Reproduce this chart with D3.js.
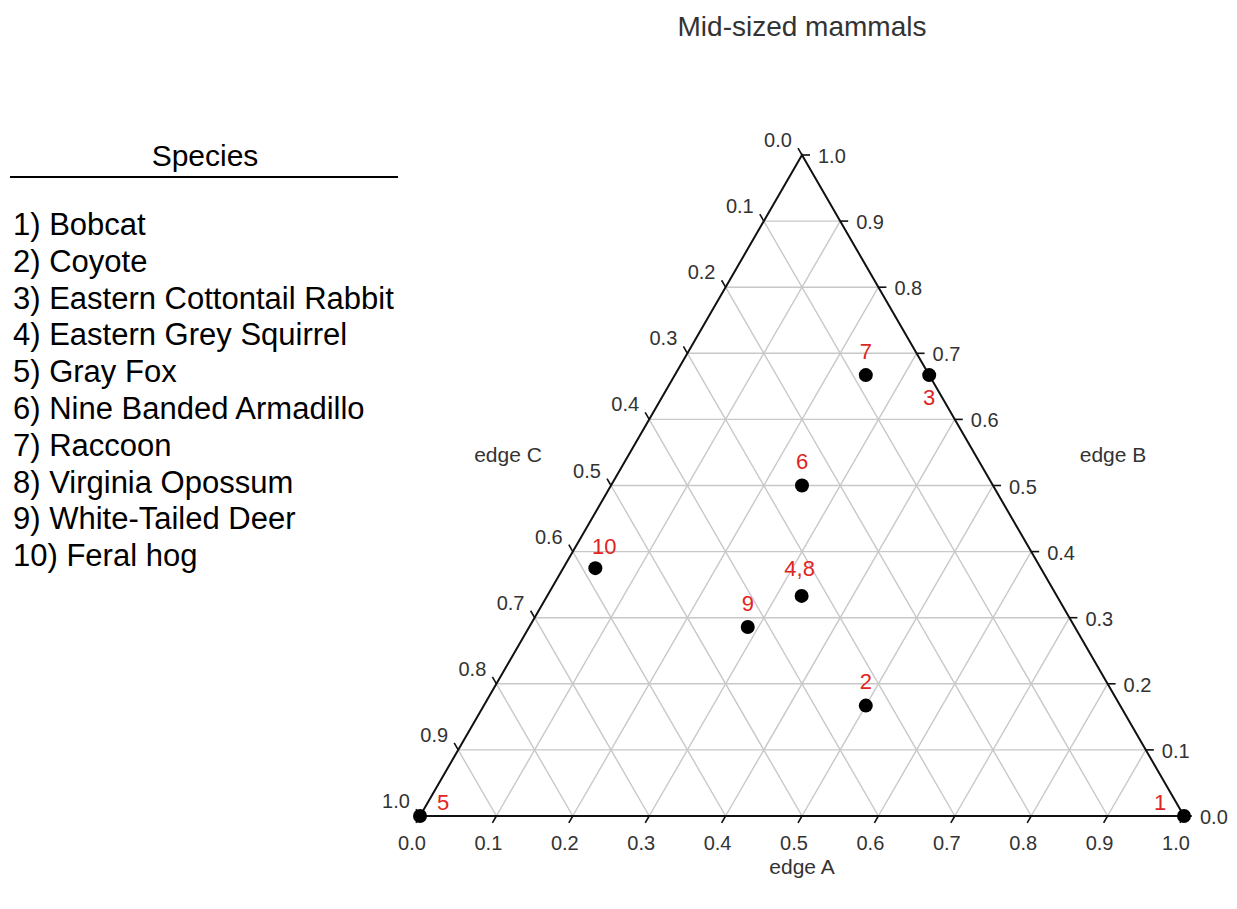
<!DOCTYPE html>
<html>
<head>
<meta charset="utf-8">
<script src="https://cdn.jsdelivr.net/npm/d3@7"></script>
<style>
  body { margin: 0; background: #fff; }
  text { font-family: Arial, "Liberation Sans", sans-serif; }
</style>
</head>
<body>
<script>
// species legend
var speciesNames = [
    "Bobcat", "Coyote", "Eastern Cottontail Rabbit", "Eastern Grey Squirrel",
    "Gray Fox", "Nine Banded Armadillo", "Raccoon", "Virginia Opossum",
    "White-Tailed Deer", "Feral hog"
];

// plotted points (shares on each edge)
var pointLabels = ["1", "2", "3", "4,8", "5", "6", "7", "9", "10"];
var edgeA = [1.0, 0.5, 0.333, 0.333, 0.0, 0.25, 0.25, 0.286, 0.042];
var edgeB = [0.0, 0.167, 0.667, 0.333, 0.0, 0.5, 0.667, 0.286, 0.375];
var edgeC = [0.0, 0.333, 0.0, 0.334, 1.0, 0.25, 0.083, 0.428, 0.583];

var tickValues = [0.0, 0.1, 0.2, 0.3, 0.4, 0.5, 0.6, 0.7, 0.8, 0.9, 1.0];

var W = 1237, H = 909;

var svg = d3.select('body').append('svg')
    .attr('width', W)
    .attr('height', H);

// triangle frame: bottom edge 420..1184, apex at y 155
var x = d3.scaleLinear().domain([0, 1]).range([420, 1184]);
var y = d3.scaleLinear().domain([0, 1]).range([816, 155]);

// a, b -> screen (c = 1 - a - b)
var pos = (a, b) => [x(a + b / 2), y(b)];

var line = d3.line();
var fmt = d3.format(".1f");

// grid
var inner = tickValues.filter((t) => t > 0 && t < 1);
var gridLines = [];
inner.forEach((t) => {
    gridLines.push([pos(1 - t, t), pos(0, t)]);      // constant B
    gridLines.push([pos(t, 0), pos(t, 1 - t)]);      // constant A
    gridLines.push([pos(1 - t, 0), pos(0, 1 - t)]);  // constant C
});

svg.append('g').selectAll('path')
    .data(gridLines)
    .enter()
    .append('path')
    .attr('d', line)
    .attr('fill', 'none')
    .attr('stroke', '#c8c8c8')
    .attr('stroke-width', 1.4);

// frame
svg.append('path')
    .attr('d', line([pos(0, 0), pos(1, 0), pos(0, 1)]) + 'Z')
    .attr('fill', 'none')
    .attr('stroke', '#111')
    .attr('stroke-width', 2)
    .attr('stroke-linejoin', 'miter');

// ticks
var L = 8;
var s60 = Math.sqrt(3) / 2;
var axes = [
    // edge A along bottom, tick down-left
    { at: (t) => pos(t, 0), d: [-0.5 * L, s60 * L], lab: [-8, 27], anchor: 'middle' },
    // edge B along right side, tick to the right
    { at: (t) => pos(1 - t, t), d: [L, 0], lab: [16, 1], anchor: 'start' },
    // edge C along left side, tick up-left
    { at: (t) => pos(0, 1 - t), d: [-0.5 * L, -s60 * L], lab: [-24, -15], anchor: 'middle' }
];

axes.forEach((ax) => {
    var g = svg.append('g');
    g.selectAll('line')
        .data(tickValues)
        .enter()
        .append('line')
        .attr('x1', (t) => ax.at(t)[0])
        .attr('y1', (t) => ax.at(t)[1])
        .attr('x2', (t) => ax.at(t)[0] + ax.d[0])
        .attr('y2', (t) => ax.at(t)[1] + ax.d[1])
        .attr('stroke', '#111')
        .attr('stroke-width', 1.6);
    g.selectAll('text')
        .data(tickValues)
        .enter()
        .append('text')
        .attr('x', (t) => ax.at(t)[0] + ax.lab[0])
        .attr('y', (t) => ax.at(t)[1] + ax.lab[1])
        .attr('dy', '0.35em')
        .attr('text-anchor', ax.anchor)
        .attr('font-size', 20)
        .attr('fill', '#333')
        .text(fmt);
});

// axis titles
svg.append('text')
    .attr('x', x(0.5)).attr('y', 874)
    .attr('text-anchor', 'middle')
    .attr('font-size', 21).attr('fill', '#333')
    .text('edge A');
svg.append('text')
    .attr('x', 1113).attr('y', 462)
    .attr('text-anchor', 'middle')
    .attr('font-size', 21).attr('fill', '#333')
    .text('edge B');
svg.append('text')
    .attr('x', 508).attr('y', 462)
    .attr('text-anchor', 'middle')
    .attr('font-size', 21).attr('fill', '#333')
    .text('edge C');

// title
svg.append('text')
    .attr('x', x(0.5)).attr('y', 36)
    .attr('text-anchor', 'middle')
    .attr('font-size', 28).attr('fill', '#333')
    .text('Mid-sized mammals');

// points
var pts = pointLabels.map((lab, i) => ({ label: lab, a: edgeA[i], b: edgeB[i], c: edgeC[i] }));

svg.append('g').selectAll('circle')
    .data(pts)
    .enter()
    .append('circle')
    .attr('cx', (d) => pos(d.a, d.b)[0])
    .attr('cy', (d) => pos(d.a, d.b)[1])
    .attr('r', 7)
    .attr('fill', '#000');

// where each number sits relative to its dot
var labelOffset = { "1": [-24, -14], "3": [0, 22], "5": [23, -14], "10": [9, -22], "4,8": [-2, -28] };

svg.append('g').selectAll('text')
    .data(pts)
    .enter()
    .append('text')
    .attr('x', (d) => pos(d.a, d.b)[0] + (labelOffset[d.label] || [0, -24])[0])
    .attr('y', (d) => pos(d.a, d.b)[1] + (labelOffset[d.label] || [0, -24])[1])
    .attr('dy', '0.35em')
    .attr('text-anchor', 'middle')
    .attr('font-size', 22)
    .attr('fill', '#e02424')
    .text((d) => d.label);

// legend
var legend = svg.append('g');
legend.append('text')
    .attr('x', 205).attr('y', 166)
    .attr('text-anchor', 'middle')
    .attr('font-size', 30).attr('fill', '#000')
    .text('Species');
legend.append('line')
    .attr('x1', 10).attr('x2', 398)
    .attr('y1', 177).attr('y2', 177)
    .attr('stroke', '#000').attr('stroke-width', 2);
legend.selectAll('.item')
    .data(speciesNames)
    .enter()
    .append('text')
    .attr('class', 'item')
    .attr('x', 13)
    .attr('y', (d, i) => 235 + i * 36.8)
    .attr('font-size', 31)
    .attr('fill', '#000')
    .text((d, i) => (i + 1) + ') ' + d);
</script>
</body>
</html>
